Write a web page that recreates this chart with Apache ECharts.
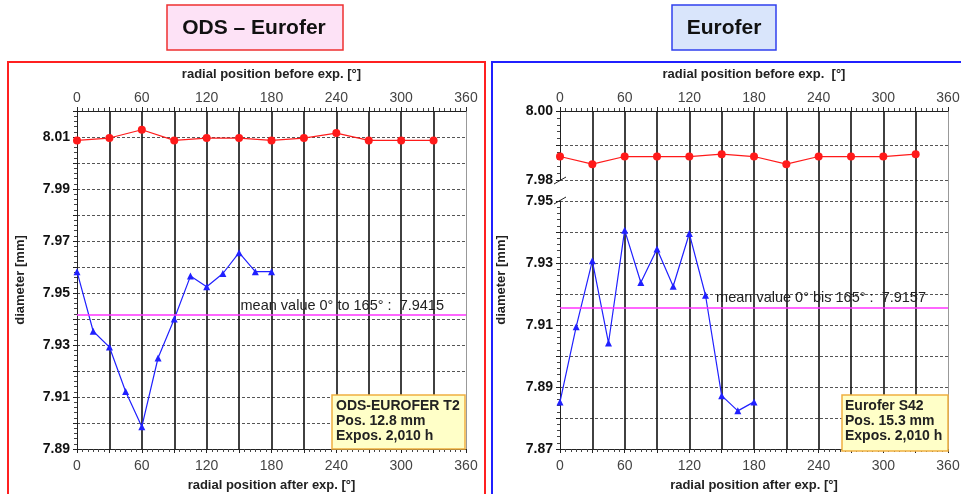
<!DOCTYPE html>
<html><head><meta charset="utf-8">
<script src="https://cdn.jsdelivr.net/npm/echarts@6/dist/echarts.min.js"></script>
<style>html,body{margin:0;padding:0;background:#fff}#c{width:961px;height:494px}</style>
</head><body><div id="c"></div><script>
// ---- data ----
const angleBefore = [0, 30, 60, 90, 120, 150, 180, 210, 240, 270, 300, 330];
const angleAfter = [0, 15, 30, 45, 60, 75, 90, 105, 120, 135, 150, 165, 180];
const odsBefore = [8.0087, 8.0096, 8.0128, 8.0087, 8.0096, 8.0096, 8.0087, 8.0096, 8.0115, 8.0087, 8.0087, 8.0087];
const odsAfter = [7.9582, 7.9353, 7.9292, 7.9121, 7.8986, 7.9250, 7.9400, 7.9565, 7.9524, 7.9575, 7.9655, 7.9582, 7.9582];
const euroBefore = [7.9868, 7.9846, 7.9868, 7.9868, 7.9868, 7.9875, 7.9868, 7.9846, 7.9868, 7.9868, 7.9868, 7.9875];
const euroAfter = [7.8852, 7.9094, 7.9307, 7.9042, 7.9406, 7.9237, 7.9345, 7.9225, 7.9395, 7.9196, 7.8872, 7.8823, 7.8852];
const odsMean = 7.9415;
const euroMean = 7.9157;
const xLabelTicks = [0, 60, 120, 180, 240, 300, 360];

const FONT = 'Liberation Sans, Arial, sans-serif';
const pair = (xs, ys) => xs.map((x, i) => [x, ys[i]]);

function xAxisDef(grid, pos, name, nameGap) {
  return {
    type: 'value', gridIndex: grid, position: pos, min: 0, max: 360, interval: 30,
    name: name, nameLocation: 'middle', nameGap: nameGap,
    nameTextStyle: { fontFamily: FONT, fontSize: 13, fontWeight: 'bold', color: '#222' },
    axisLine: { show: true, onZero: false, lineStyle: { color: '#222', width: 1 } },
    axisTick: { show: true, length: 4, lineStyle: { color: '#222' } },
    minorTick: { show: true, splitNumber: 6, length: 3, lineStyle: { color: '#444' } },
    axisLabel: { fontFamily: FONT, fontSize: 14, color: '#444', margin: pos === 'bottom' ? 10 : 6,
      formatter: v => xLabelTicks.includes(v) ? String(v) : '' },
    splitLine: { show: pos === 'bottom', showMinLine: false, showMaxLine: false,
      lineStyle: { color: '#111', width: 1.6, type: 'solid' } }
  };
}
function hiddenX(grid) {
  return { type: 'value', gridIndex: grid, min: 0, max: 360, show: false, splitLine: { show: false } };
}
function yAxisDef(grid, min, max, showOdd, name) {
  return {
    type: 'value', gridIndex: grid, position: 'left', min: min, max: max, interval: 0.01,
    name: name || '', nameLocation: 'middle', nameGap: 50,
    nameTextStyle: { fontFamily: FONT, fontSize: 13, fontWeight: 'bold', color: '#222' },
    axisLine: { show: true, onZero: false, lineStyle: { color: '#222', width: 1 } },
    axisTick: { show: true, length: 4, lineStyle: { color: '#222' } },
    minorTick: { show: true, splitNumber: 5, length: 3, lineStyle: { color: '#444' } },
    axisLabel: { fontFamily: FONT, fontSize: 14, fontWeight: 'bold', color: '#111', margin: 7,
      formatter: v => { const k = Math.round(v * 100); return (k % 2 === (showOdd ? 1 : 0)) ? v.toFixed(2) : ''; } },
    splitLine: { show: true, lineStyle: { color: '#555', width: 1, type: [3, 2] } }
  };
}
function frameRight(grid, min, max) {
  return { type: 'value', gridIndex: grid, position: 'right', min: min, max: max,
    axisLine: { show: true, onZero: false, lineStyle: { color: '#999', width: 1 } },
    axisTick: { show: false }, axisLabel: { show: false }, splitLine: { show: false } };
}

const redLine = { color: '#ff1a1a', width: 1.2 };
const blueLine = { color: '#2020ff', width: 1.2 };
const meanLabel = (txt) => ({ show: true, position: 'insideEndTop', distance: [22, 2], formatter: txt,
  fontFamily: FONT, fontSize: 14.5, color: '#222' });

const G = { outerBoundsMode: 'none', containLabel: false };
const option = {
  animation: false,
  backgroundColor: '#fff',
  grid: [
    Object.assign({ left: 77, top: 111, width: 389, height: 338 }, G),
    Object.assign({ left: 560, top: 111, width: 388, height: 338 }, G),
    Object.assign({ left: 560, top: 111, width: 388, height: 69 }, G),
    Object.assign({ left: 560, top: 201, width: 388, height: 248 }, G)
  ],
  xAxis: [
    xAxisDef(0, 'bottom', 'radial position after exp. [°]', 30),
    xAxisDef(0, 'top', 'radial position before exp. [°]', 30),
    xAxisDef(1, 'bottom', 'radial position after exp. [°]', 30),
    xAxisDef(1, 'top', 'radial position before exp.  [°]', 30),
    hiddenX(2),
    hiddenX(3)
  ],
  yAxis: [
    yAxisDef(0, 7.89, 8.02, true, 'diameter [mm]'),
    frameRight(0, 7.89, 8.02),
    { type: 'value', gridIndex: 1, min: 0, max: 1, name: 'diameter [mm]', nameLocation: 'middle', nameGap: 52,
      nameTextStyle: { fontFamily: FONT, fontSize: 13, fontWeight: 'bold', color: '#222' },
      axisLine: { show: false }, axisTick: { show: false }, axisLabel: { show: false }, splitLine: { show: false } },
    frameRight(1, 0, 1),
    yAxisDef(2, 7.98, 8.00, false),
    yAxisDef(3, 7.87, 7.95, true)
  ],
  series: [
    { type: 'line', xAxisIndex: 0, yAxisIndex: 0, data: pair(angleBefore, odsBefore),
      symbol: 'circle', symbolSize: 8, lineStyle: redLine, itemStyle: { color: '#ff1a1a' } },
    { type: 'line', xAxisIndex: 0, yAxisIndex: 0, data: pair(angleAfter, odsAfter),
      symbol: 'triangle', symbolSize: 7, lineStyle: blueLine, itemStyle: { color: '#2020ff' },
      markLine: { silent: true, symbol: 'none', precision: 4, lineStyle: { color: '#ff33ff', width: 1.5, type: 'solid' },
        label: meanLabel('mean value 0° to 165° :  7.9415'), data: [{ yAxis: odsMean }] } },
    { type: 'line', xAxisIndex: 4, yAxisIndex: 4, data: pair(angleBefore, euroBefore),
      symbol: 'circle', symbolSize: 8, lineStyle: redLine, itemStyle: { color: '#ff1a1a' } },
    { type: 'line', xAxisIndex: 5, yAxisIndex: 5, data: pair(angleAfter, euroAfter),
      symbol: 'triangle', symbolSize: 7, lineStyle: blueLine, itemStyle: { color: '#2020ff' },
      markLine: { silent: true, symbol: 'none', precision: 4, lineStyle: { color: '#ff33ff', width: 1.5, type: 'solid' },
        label: meanLabel('mean value 0° bis 165° :  7.9157'), data: [{ yAxis: euroMean }] } }
  ],
  graphic: [
    // panel frames
    { type: 'rect', shape: { x: 8, y: 62, width: 477, height: 440 }, style: { fill: 'none', stroke: '#ff2020', lineWidth: 2 }, z: 100 },
    { type: 'rect', shape: { x: 492, y: 62, width: 480, height: 440 }, style: { fill: 'none', stroke: '#2020ff', lineWidth: 2 }, z: 100 },
    // title boxes
    { type: 'rect', shape: { x: 167, y: 5, width: 176, height: 45 }, style: { fill: '#fde2f6', stroke: '#ee3030', lineWidth: 1.5 } },
    { type: 'text', x: 254, y: 28, style: { text: 'ODS – Eurofer', font: 'bold 21px ' + FONT, fill: '#111', align: 'center', verticalAlign: 'middle' } },
    { type: 'rect', shape: { x: 672, y: 5, width: 104, height: 45 }, style: { fill: '#d9e5fb', stroke: '#3040ee', lineWidth: 1.5 } },
    { type: 'text', x: 724, y: 28, style: { text: 'Eurofer', font: 'bold 21px ' + FONT, fill: '#111', align: 'center', verticalAlign: 'middle' } },
    // info boxes
    { type: 'rect', shape: { x: 332, y: 395, width: 133, height: 54 }, style: { fill: '#ffffc8', stroke: '#f0b040', lineWidth: 1.5 }, z: 50 },
    { type: 'text', x: 336, y: 398.5, z: 51, style: { text: 'ODS-EUROFER T2\nPos. 12.8 mm\nExpos. 2,010 h', font: 'bold 14px ' + FONT, fill: '#222', lineHeight: 15 } },
    { type: 'rect', shape: { x: 842, y: 395, width: 106, height: 56 }, style: { fill: '#ffffc8', stroke: '#f0b040', lineWidth: 1.5 }, z: 50 },
    { type: 'text', x: 845, y: 398.5, z: 51, style: { text: 'Eurofer S42\nPos. 15.3 mm\nExpos. 2,010 h', font: 'bold 14px ' + FONT, fill: '#222', lineHeight: 15 } },
    // axis break marks
    { type: 'line', shape: { x1: 554, y1: 184, x2: 566, y2: 177 }, style: { stroke: '#222', lineWidth: 1 }, z: 60 },
    { type: 'line', shape: { x1: 554, y1: 204, x2: 566, y2: 197 }, style: { stroke: '#222', lineWidth: 1 }, z: 60 }
  ]
};
const chart = echarts.init(document.getElementById('c'));
chart.setOption(option);
</script></body></html>
